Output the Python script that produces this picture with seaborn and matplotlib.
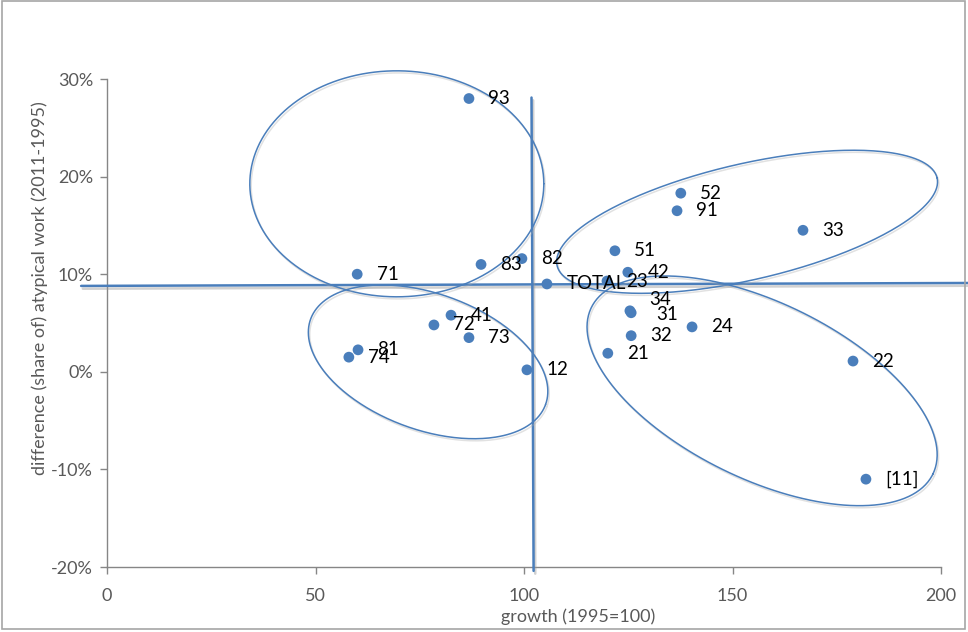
import numpy as np
import pandas as pd
import matplotlib
matplotlib.use("Agg")
import matplotlib.pyplot as plt
import matplotlib.patheffects as pe
from matplotlib.patches import Rectangle
from matplotlib.ticker import PercentFormatter
import seaborn as sns

# --- data
codes = ['93', '52', '91', '33', '51', '42', '82', '83', '71', 'TOTAL', '23',
         '34', '31', '41', '72', '73', '32', '24', '21', '81', '74', '12',
         '22', '[11]']
growth = [86.8, 137.6, 136.7, 166.9, 121.8, 124.9, 99.5, 89.7, 60.0, 105.5, 119.9,
          125.4, 125.7, 82.5, 78.4, 86.8, 125.7, 140.3, 120.1, 60.2, 58.0, 100.7,
          178.9, 182.0]
diff_atypical = [0.280, 0.183, 0.165, 0.145, 0.124, 0.102, 0.116, 0.110, 0.100, 0.090, 0.093,
                 0.0625, 0.0605, 0.058, 0.048, 0.035, 0.037, 0.046, 0.019, 0.0225, 0.015, 0.002,
                 0.011, -0.110]

# cross lines (x, y) drawn by hand in the original
h_line_x = [-6.2, 206.5]
h_line_y = [0.088, 0.091]
v_line_x = [101.8, 102.3]
v_line_y = [0.281, -0.204]

# hand-drawn ellipses: centre (growth, diff), semi-axes in pixels, angle in degrees
ellipse_cx = [69.5, 153.5, 77.0, 157.1]
ellipse_cy = [0.1926, 0.1537, 0.0102, -0.0195]
ellipse_a = [147, 195, 125, 190]
ellipse_b = [113, 58, 68, 88]
ellipse_ang = [0, 13, -20, -26]

# label nudges (points) where the original labels were moved
label_nudge = {'34': (14, 8), '31': (18, -1)}

df = pd.DataFrame({'code': codes, 'growth': growth, 'diff': diff_atypical})

blue = '#4a7ebb'
grey = '#595959'

sns.set_style('white')
plt.rcParams['font.family'] = ['Lato', 'DejaVu Sans']
plt.rcParams['axes.unicode_minus'] = False

fig = plt.figure(figsize=(9.68, 6.32), dpi=100)
ax = fig.add_axes([107 / 968, 1 - 567 / 632, 834 / 968, 488 / 632])

sns.scatterplot(data=df, x='growth', y='diff', ax=ax, color=blue, s=60,
                edgecolor='none', zorder=4, legend=False)

for c, x, y in zip(codes, growth, diff_atypical):
    off = label_nudge.get(c, (14, 0))
    ax.annotate(c, (x, y), xytext=off, textcoords='offset points',
                ha='left', va='center', fontsize=13.5, color='black', zorder=6)

ax.set_xlim(0, 200)
ax.set_ylim(-0.2, 0.3)
ax.set_xticks([0, 50, 100, 150, 200])
ax.set_yticks([-0.2, -0.1, 0, 0.1, 0.2, 0.3])
ax.yaxis.set_major_formatter(PercentFormatter(1.0, decimals=0))
ax.set_xlabel('')
ax.set_ylabel('')

for s in ['top', 'right']:
    ax.spines[s].set_visible(False)
for s in ['left', 'bottom']:
    ax.spines[s].set_color('#868686')
    ax.spines[s].set_linewidth(1.0)
ax.tick_params(axis='both', which='major', direction='out', length=5, width=1.0,
               color='#868686', labelcolor=grey, labelsize=13)
ax.tick_params(axis='x', pad=10)
ax.tick_params(axis='y', pad=5)
ax.tick_params(left=True, bottom=True)

shadow = [pe.SimpleLineShadow(offset=(1.2, -2.0), shadow_color='#999999', alpha=0.45),
          pe.Normal()]

# cross lines
ax.plot(h_line_x, h_line_y, color=blue, lw=1.8, clip_on=False, zorder=3,
        path_effects=shadow)
ax.plot(v_line_x, v_line_y, color=blue, lw=1.8, clip_on=False, zorder=3,
        path_effects=shadow)

# ellipses, built in pixel space then mapped back into data units
sx = 834 / 200.0
sy = 488 / 0.5
t = np.linspace(0, 2 * np.pi, 300)
for cx, cy, a, b, ang in zip(ellipse_cx, ellipse_cy, ellipse_a, ellipse_b, ellipse_ang):
    th = np.deg2rad(ang)
    ex = a * np.cos(t) * np.cos(th) - b * np.sin(t) * np.sin(th)
    ey = a * np.cos(t) * np.sin(th) + b * np.sin(t) * np.cos(th)
    ax.plot(cx + ex / sx, cy + ey / sy, color=blue, lw=1.1, clip_on=False, zorder=3,
            path_effects=[pe.SimpleLineShadow(offset=(1, -1.5), shadow_color='#aaaaaa', alpha=0.35),
                          pe.Normal()])

fig.text(578 / 968, 1 - 617 / 632, 'growth (1995=100)', ha='center', va='center',
         fontsize=13, color=grey)
fig.text(40 / 968, 1 - 288 / 632, 'difference (share of) atypical work (2011-1995)',
         ha='center', va='center', rotation=90, fontsize=13, color=grey)

fig.patches.append(Rectangle((0.002, 0.004), 0.995, 0.994, transform=fig.transFigure,
                             fill=False, edgecolor='#a6a6a6', lw=1.2))

fig.savefig('out.png', dpi=100)
